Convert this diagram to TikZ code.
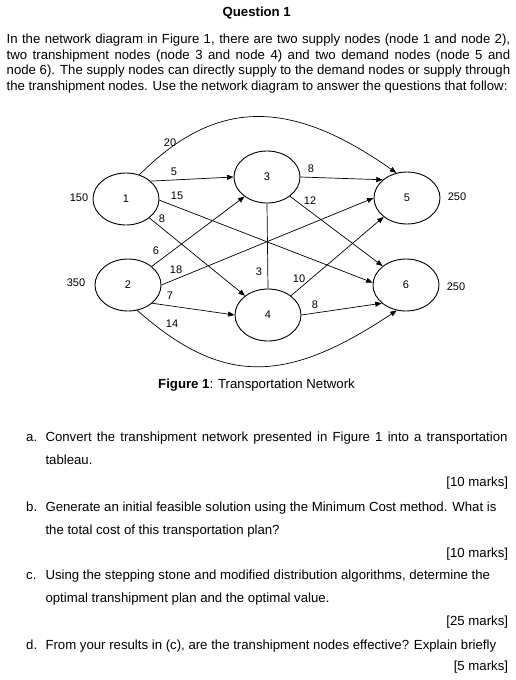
\documentclass[tikz,border=0pt]{standalone}
\usepackage{fontspec}
\setmainfont{Liberation Sans}
\usetikzlibrary{shapes.geometric,arrows.meta}
\begin{document}
\begin{tikzpicture}[x=1pt,y=-1pt,
  nd/.style={ellipse,draw,line width=0.9pt,minimum width=66pt,minimum height=52pt,inner sep=0pt,font=\fontsize{11}{13}\selectfont},
  lbl/.style={inner sep=0pt,font=\fontsize{11}{13}\selectfont},
  edge/.style={line width=0.7pt,-{Triangle[length=6.5pt,width=5pt]}},
  plain/.style={line width=0.7pt},
  txt/.style={anchor=base west,inner sep=0pt,font=\fontsize{13.2}{15}\selectfont},
  txtr/.style={anchor=base east,inner sep=0pt,font=\fontsize{13.2}{15}\selectfont},
  txtc/.style={anchor=base,inner sep=0pt,font=\fontsize{13.2}{15}\selectfont}]
\useasboundingbox (0,0) rectangle (516,680);
% title and intro
\node[txtc] (title) at (256.7,16.7) {\textbf{Question 1}};
\node[txt] (p1) at (6.5,43.5) {\makebox[503.5pt][s]{In the network diagram in Figure 1, there are two supply nodes (node 1 and node 2),}};
\node[txt] (p2) at (6.5,59.2) {\makebox[503.5pt][s]{two transhipment nodes (node 3 and node 4) and two demand nodes (node 5 and}};
\node[txt] (p3) at (6.5,74.9) {\makebox[503.5pt][s]{node 6). The supply nodes can directly supply to the demand nodes or supply through}};
\node[txt] (p4) at (6.5,90.6) {\makebox[500.8pt][s]{the transhipment nodes. Use the network diagram to answer the questions that follow:}};
% network nodes
\node[nd] (n1) at (126,199) {1};
\node[nd] (n2) at (128,285) {2};
\node[nd] (n3) at (267,177) {3};
\node[nd] (n4) at (268,315) {4};
\node[nd] (n5) at (407,198) {5};
\node[nd] (n6) at (406,285) {6};
% supply / demand
\node[lbl] (s1) at (79,198) {150};
\node[lbl] (s2) at (76,283) {350};
\node[lbl] (d5) at (457,197) {250};
\node[lbl] (d6) at (456,287) {250};
% edges
\draw[edge] (n1.61) .. controls (216,98) and (290,98) .. (n5.113);
\draw[edge] (n1.36) -- (n3.180);
\draw[edge] (n1.-2) -- (n6.176);
\draw[edge] (n1.-39) -- (n4.140);
\draw[edge] (n2.38) -- (n3.-139);
\draw[edge] (n2.0) -- (n5.180);
\draw[edge] (n2.-37) -- (n4.180);
\draw[edge] (n2.-70) .. controls (222,385) and (285,385) .. (n6.-110);
\draw[plain] (n3.-90) -- (n4.90);
\draw[edge] (n3.0) -- (n5.143);
\draw[edge] (n3.-40) -- (n6.141);
\draw[edge] (n4.40) -- (n5.-141);
\draw[edge] (n4.0) -- (n6.-143);
% edge labels
\node[lbl] (c15a) at (170,143) {20};
\node[lbl] (c13) at (174,172) {5};
\node[lbl] (c16) at (177,196) {15};
\node[lbl] (c14) at (162,219) {8};
\node[lbl] (c23) at (156,251) {6};
\node[lbl] (c25) at (176,270) {18};
\node[lbl] (c24) at (170,296) {7};
\node[lbl] (c26) at (172,324) {14};
\node[lbl] (c34) at (259,272) {3};
\node[lbl] (c45) at (299,279) {10};
\node[lbl] (c35) at (311,169) {8};
\node[lbl] (c36) at (310,201) {12};
\node[lbl] (c46) at (315,305) {8};
% caption
\node[txtc] (cap) at (256.5,388) {\textbf{Figure 1}: Transportation Network};
% questions
\node[txt] (qa) at (26,441) {a.};
\node[txt] (qa1) at (45.3,441) {\makebox[462pt][s]{Convert the transhipment network presented in Figure 1 into a transportation}};
\node[txt] (qa2) at (45.3,464.2) {tableau.};
\node[txtr] (ma) at (508.3,486.8) {[10 marks]};
\node[txt] (qb) at (26,511) {b.};
\node[txt] (qb1) at (45.3,511) {Generate an initial feasible solution using the Minimum Cost method. What is};
\node[txt] (qb2) at (45.3,534) {the total cost of this transportation plan?};
\node[txtr] (mb) at (508.3,557.5) {[10 marks]};
\node[txt] (qc) at (26,579.3) {c.};
\node[txt] (qc1) at (45.3,579.3) {Using the stepping stone and modified distribution algorithms, determine the};
\node[txt] (qc2) at (45.3,602.7) {optimal transhipment plan and the optimal value.};
\node[txtr] (mc) at (508.3,625) {[25 marks]};
\node[txt] (qd) at (26,649.3) {d.};
\node[txt] (qd1) at (45.3,649.3) {From your results in (c), are the transhipment nodes effective? Explain briefly};
\node[txtr] (md) at (508.3,670) {[5 marks]};
\end{tikzpicture}
\end{document}
